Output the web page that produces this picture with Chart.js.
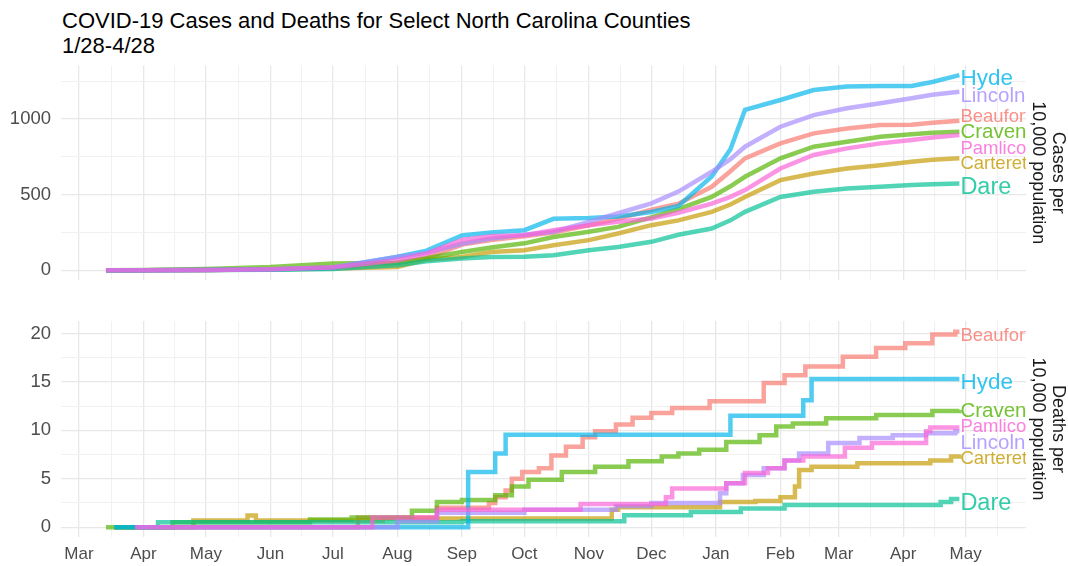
<!DOCTYPE html>
<html>
<head>
<meta charset="utf-8">
<script src="https://cdn.jsdelivr.net/npm/chart.js@4.4.1/dist/chart.umd.min.js"></script>
<style>
  html, body { margin: 0; padding: 0; background: #fff; }
  body { width: 1068px; height: 566px; position: relative; overflow: hidden;
         font-family: 'Liberation Sans', Arial, sans-serif; }
  #title { position: absolute; left: 62px; top: 8px; font-size: 22px; line-height: 25px; color: #000; white-space: nowrap; }
  #casesCanvas { position: absolute; left: 0; top: 55px; }
  #deathsCanvas { position: absolute; left: 0; top: 300px; }
</style>
</head>
<body>
<div id="title">COVID-19 Cases and Deaths for Select North Carolina Counties<br>1/28-4/28</div>
<canvas id="casesCanvas" width="1068" height="235"></canvas>
<canvas id="deathsCanvas" width="1068" height="266"></canvas>
<script>
// ---- counties ----
const counties = ['Beaufort', 'Carteret', 'Craven', 'Dare', 'Hyde', 'Lincoln', 'Pamlico'];
const countyColors = ['#F8766D', '#C49A00', '#53B400', '#00C094', '#00B6EB', '#A58AFF', '#FB61D7'];
const labelSizes = [18.5, 18.5, 20.5, 23.5, 22.5, 20.5, 18.5];

// ---- x axis: month breaks ----
const monthStarts = ['2020-03-01', '2020-04-01', '2020-05-01', '2020-06-01', '2020-07-01', '2020-08-01',
  '2020-09-01', '2020-10-01', '2020-11-01', '2020-12-01', '2021-01-01', '2021-02-01', '2021-03-01',
  '2021-04-01', '2021-05-01', '2021-06-01'];
const monthLabels = ['Mar', 'Apr', 'May', 'Jun', 'Jul', 'Aug', 'Sep', 'Oct', 'Nov', 'Dec', 'Jan', 'Feb', 'Mar',
  'Apr', 'May', 'Jun'];

// ---- y axis breaks ----
const caseTicks = [0, 500, 1000];
const caseMinorTicks = [250, 750, 1250];
const deathTicks = [0, 5, 10, 15, 20];
const deathMinorTicks = [2.5, 7.5, 12.5, 17.5];

// ---- cumulative cases per 10,000 ----
const caseDates = ['2020-03-14', '2020-04-01', '2020-05-01', '2020-06-01', '2020-07-01', '2020-08-01',
  '2020-08-15', '2020-09-01', '2020-09-15', '2020-10-01', '2020-10-15', '2020-11-01', '2020-11-15',
  '2020-12-01', '2020-12-14', '2020-12-30', '2021-01-08', '2021-01-15', '2021-02-01', '2021-02-17',
  '2021-03-05', '2021-03-21', '2021-04-05', '2021-04-15', '2021-04-28'];
const casesBeaufort = [0, 0, 2, 6, 18, 50, 80, 170, 200, 225, 250, 298, 340, 400, 440, 552, 655, 740, 839, 905, 938, 960, 962, 975, 988];
const casesCarteret = [0, 0, 2, 5, 12, 22, 70, 88, 120, 132, 165, 199, 243, 298, 330, 386, 435, 485, 596, 640, 673, 695, 717, 730, 740];
const casesCraven   = [0, 1, 8, 22, 45, 50, 80, 121, 150, 178, 220, 254, 287, 350, 405, 485, 555, 618, 740, 817, 850, 883, 900, 910, 916];
const casesDare     = [0, 0, 1, 3, 8, 33, 60, 78, 88, 90, 99, 132, 154, 188, 235, 276, 330, 386, 485, 519, 541, 552, 563, 568, 574];
const casesHyde     = [0, 0, 2, 5, 15, 90, 130, 230, 250, 265, 340, 345, 355, 385, 425, 620, 800, 1060, 1126, 1192, 1215, 1218, 1218, 1245, 1290];
const casesLincoln  = [0, 0, 2, 6, 20, 88, 115, 175, 210, 235, 255, 320, 377, 442, 520, 651, 735, 817, 949, 1026, 1071, 1104, 1137, 1160, 1181];
const casesPamlico  = [0, 0, 2, 6, 18, 66, 110, 200, 225, 232, 265, 298, 320, 342, 380, 441, 485, 530, 673, 762, 806, 839, 861, 878, 894];

// ---- cumulative deaths per 10,000 (value holds from each date on) ----
const deathDatesBeaufort = ['2020-03-18', '2020-07-13', '2020-08-20', '2020-09-14', '2020-09-17', '2020-09-22',
  '2020-09-25', '2020-09-30', '2020-10-08', '2020-10-14', '2020-10-21', '2020-10-29', '2020-11-04', '2020-11-14',
  '2020-11-22', '2020-12-01', '2020-12-11', '2020-12-29', '2021-01-24', '2021-02-03', '2021-02-13', '2021-03-03',
  '2021-03-19', '2021-04-02', '2021-04-15', '2021-04-26', '2021-04-28'];
const deathsBeaufort = [0, 1.0, 2.0, 2.5, 3.1, 3.8, 5.0, 5.7, 6.1, 7.4, 8.3, 9.3, 9.9, 10.6, 11.3, 11.8, 12.3, 13.0,
  14.9, 15.7, 16.6, 17.6, 18.5, 19.0, 19.9, 20.2, 20.2];

const deathDatesCarteret = ['2020-03-18', '2020-04-25', '2020-05-21', '2020-05-25', '2020-07-25', '2020-11-12',
  '2020-11-15', '2021-01-03', '2021-01-20', '2021-02-01', '2021-02-08', '2021-02-10', '2021-02-16', '2021-03-10',
  '2021-04-14', '2021-04-24', '2021-04-28'];
const deathsCarteret = [0, 0.7, 1.2, 0.7, 0.9, 1.8, 2.07, 2.6, 2.7, 3.1, 4.2, 5.9, 6.25, 6.6, 6.9, 7.3, 7.5];

const deathDatesCraven = ['2020-03-14', '2020-04-15', '2020-06-20', '2020-07-10', '2020-08-08', '2020-08-20',
  '2020-09-01', '2020-09-17', '2020-09-25', '2020-10-03', '2020-10-19', '2020-11-04', '2020-11-20', '2020-12-06',
  '2020-12-14', '2020-12-24', '2021-01-06', '2021-01-22', '2021-01-30', '2021-02-07', '2021-02-23', '2021-03-19',
  '2021-04-15', '2021-04-28'];
const deathsCraven = [0, 0.5, 0.8, 1.0, 1.7, 2.6, 2.8, 3.3, 4.2, 4.9, 5.7, 6.25, 6.8, 7.3, 7.6, 8.0, 8.8, 9.5,
  10.4, 10.7, 11.25, 11.6, 12.0, 12.1];

const deathDatesDare = ['2020-03-18', '2020-04-08', '2020-09-01', '2020-11-18', '2020-12-20', '2021-01-13',
  '2021-02-03', '2021-04-19', '2021-04-24', '2021-04-28'];
const deathsDare = [0, 0.5, 0.62, 1.24, 1.58, 1.93, 2.28, 2.6, 2.9, 2.9];

const deathDatesHyde = ['2020-03-18', '2020-09-04', '2020-09-17', '2020-09-22', '2021-01-08', '2021-02-12',
  '2021-02-16', '2021-04-28'];
const deathsHyde = [0, 5.7, 7.6, 9.55, 11.5, 13.1, 15.3, 15.3];

const deathDatesLincoln = ['2020-03-28', '2020-08-01', '2020-08-20', '2020-10-01', '2020-11-14', '2020-12-01',
  '2021-01-03', '2021-01-06', '2021-01-14', '2021-01-24', '2021-02-03', '2021-02-10', '2021-02-24', '2021-03-11',
  '2021-03-27', '2021-04-12', '2021-04-26', '2021-04-28'];
const deathsLincoln = [0, 0.6, 1.5, 1.8, 2.2, 2.5, 3.5, 4.55, 5.4, 6.1, 6.9, 7.6, 8.7, 9.2, 9.5, 9.7, 9.9, 9.9];

const deathDatesPamlico = ['2020-03-28', '2020-07-20', '2020-08-20', '2020-10-28', '2020-12-08', '2020-12-11',
  '2021-01-06', '2021-01-15', '2021-01-26', '2021-02-03', '2021-02-12', '2021-03-04', '2021-03-17', '2021-04-12',
  '2021-04-14', '2021-04-28'];
const deathsPamlico = [0, 1.0, 1.8, 2.4, 3.1, 4.0, 4.55, 5.6, 6.1, 6.9, 7.3, 8.2, 8.7, 9.9, 10.3, 10.3];

// ---- helpers ----
const FONT = "'Liberation Sans', Arial, sans-serif";
const DAY0 = Date.UTC(2020, 2, 1);
function toDay(s) {
  const [y, m, d] = s.split('-').map(Number);
  return (Date.UTC(y, m - 1, d) - DAY0) / 86400000;
}
function rgba(hex, a) {
  const n = parseInt(hex.slice(1), 16);
  return `rgba(${(n >> 16) & 255},${(n >> 8) & 255},${n & 255},${a})`;
}

const xMin = -8.6, xMax = 455;
const monthDays = monthStarts.map(toDay);
const xTicks = [];
monthDays.forEach((d, i) => {
  xTicks.push(d);
  if (i < monthDays.length - 1) xTicks.push((d + monthDays[i + 1]) / 2);
});
const xTickValues = xTicks.filter(v => v >= xMin && v <= xMax);
const majorX = new Set(monthDays);

const MAJOR_GRID = '#e8e8e8', MINOR_GRID = '#f1f1f1';

function xScale(showLabels) {
  return {
    type: 'linear', min: xMin, max: xMax,
    afterBuildTicks: ax => { ax.ticks = xTickValues.map(v => ({ value: v })); },
    afterFit: ax => { ax.height = showLabels ? 29 : 0; ax.paddingLeft = 0; ax.paddingRight = 0; },
    ticks: {
      display: showLabels, autoSkip: false, maxRotation: 0, minRotation: 0, padding: 7,
      color: '#4d4d4d', font: { family: FONT, size: 17 },
      callback: v => { const i = monthDays.indexOf(v); return i >= 0 ? monthLabels[i] : ''; }
    },
    grid: {
      drawTicks: false,
      color: c => majorX.has(c.tick.value) ? MAJOR_GRID : MINOR_GRID,
      lineWidth: c => majorX.has(c.tick.value) ? 1.3 : 1
    },
    border: { display: false }
  };
}

function yScale(min, max, major, minor) {
  const all = major.concat(minor).sort((a, b) => a - b);
  const majorSet = new Set(major);
  return {
    type: 'linear', min, max,
    afterBuildTicks: ax => { ax.ticks = all.map(v => ({ value: v })); },
    afterFit: ax => { ax.width = 61; ax.paddingTop = 0; ax.paddingBottom = 0; },
    ticks: {
      autoSkip: false, padding: 10, color: '#4d4d4d', font: { family: FONT, size: 18.5 },
      callback: v => majorSet.has(v) ? String(v) : ''
    },
    grid: {
      drawTicks: false,
      color: c => majorSet.has(c.tick.value) ? MAJOR_GRID : MINOR_GRID,
      lineWidth: c => majorSet.has(c.tick.value) ? 1.3 : 1
    },
    border: { display: false }
  };
}

// end-of-line county names, spread apart so they do not overlap, clipped to the panel
const endLabels = {
  id: 'endLabels',
  afterDatasetsDraw(chart) {
    const { ctx, chartArea: a } = chart;
    const items = chart.data.datasets.map((ds, i) => {
      const pts = chart.getDatasetMeta(i).data;
      const p = pts[pts.length - 1];
      const size = labelSizes[i];
      return { i, x: p.x, y: p.y, h: size * 0.82, size };
    });
    items.sort((p, q) => p.y - q.y);
    for (let it = 0; it < 300; it++) {
      let moved = false;
      for (let k = 0; k < items.length - 1; k++) {
        const p = items[k], q = items[k + 1];
        const need = (p.h + q.h) / 2, d = q.y - p.y;
        if (d < need - 0.01) { const s = (need - d) / 2; p.y -= s; q.y += s; moved = true; }
      }
      if (!moved) break;
    }
    ctx.save();
    ctx.beginPath();
    ctx.rect(a.left, a.top - 30, a.right - a.left, a.bottom - a.top + 60);
    ctx.clip();
    ctx.textAlign = 'left';
    ctx.textBaseline = 'middle';
    items.forEach(it => {
      ctx.font = `${it.size}px ${FONT}`;
      ctx.fillStyle = rgba(countyColors[it.i], 0.8);
      ctx.fillText(counties[it.i], it.x + 1, it.y + 4);
    });
    ctx.restore();
  }
};

// facet strip on the right, text rotated to read downward
const stripText = {
  id: 'stripText',
  afterDraw(chart, args, opts) {
    const { ctx, chartArea: a } = chart;
    ctx.save();
    ctx.translate(1048, (a.top + a.bottom) / 2);
    ctx.rotate(Math.PI / 2);
    ctx.font = `18px ${FONT}`;
    ctx.fillStyle = '#1a1a1a';
    ctx.textAlign = 'center';
    ctx.textBaseline = 'middle';
    ctx.fillText(opts.lines[0], 0, -10);
    ctx.fillText(opts.lines[1], 0, 10);
    ctx.restore();
  }
};

function buildDatasets(series, stepped) {
  return counties.map((name, i) => ({
    label: name,
    data: series[i].dates.map((d, j) => ({ x: toDay(d), y: series[i].values[j] })),
    borderColor: rgba(countyColors[i], 0.68),
    borderWidth: 4.5,
    pointRadius: 0,
    fill: false,
    tension: 0,
    stepped: stepped,
    order: counties.length - i
  }));
}

const caseSeries = [casesBeaufort, casesCarteret, casesCraven, casesDare, casesHyde, casesLincoln, casesPamlico]
  .map(values => ({ dates: caseDates, values }));
const deathSeries = [
  { dates: deathDatesBeaufort, values: deathsBeaufort },
  { dates: deathDatesCarteret, values: deathsCarteret },
  { dates: deathDatesCraven, values: deathsCraven },
  { dates: deathDatesDare, values: deathsDare },
  { dates: deathDatesHyde, values: deathsHyde },
  { dates: deathDatesLincoln, values: deathsLincoln },
  { dates: deathDatesPamlico, values: deathsPamlico }
];

Chart.defaults.font.family = FONT;

function commonOptions(padding, yOpts, showX, strip) {
  return {
    responsive: false, animation: false, events: [],
    layout: { padding },
    scales: { x: xScale(showX), y: yOpts },
    plugins: { legend: { display: false }, tooltip: { enabled: false }, stripText: { lines: strip } }
  };
}

new Chart(document.getElementById('casesCanvas'), {
  type: 'line',
  data: { datasets: buildDatasets(caseSeries, false) },
  options: commonOptions({ left: 0, right: 42, top: 10.5, bottom: 10 },
    yScale(-64.5, 1354, caseTicks, caseMinorTicks), false, ['Cases per', '10,000 population']),
  plugins: [endLabels, stripText]
});

new Chart(document.getElementById('deathsCanvas'), {
  type: 'line',
  data: { datasets: buildDatasets(deathSeries, true) },
  options: commonOptions({ left: 0, right: 42, top: 21, bottom: 0 },
    yScale(-1.015, 21.3, deathTicks, deathMinorTicks), true, ['Deaths per', '10,000 population']),
  plugins: [endLabels, stripText]
});
</script>
</body>
</html>
